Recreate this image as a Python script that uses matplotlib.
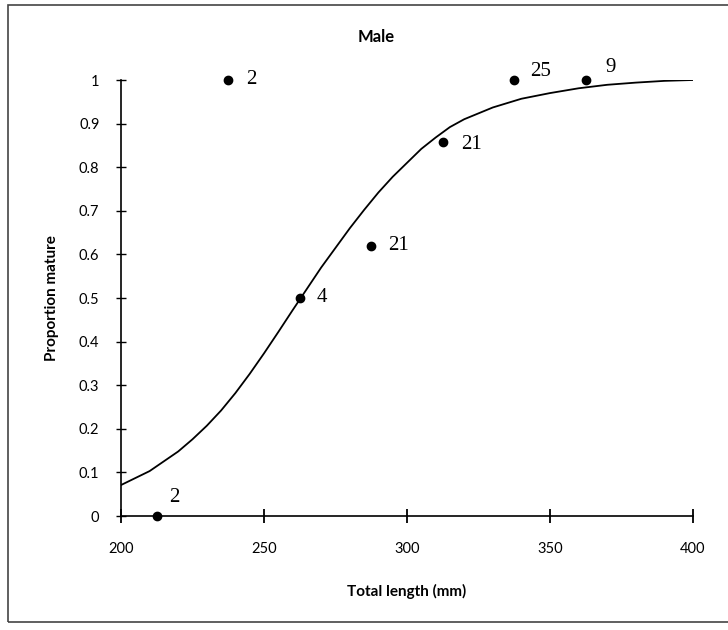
import matplotlib.pyplot as plt
from matplotlib.patches import Rectangle

plt.rcParams['font.family'] = ['Lato', 'DejaVu Sans']

# data
length_mm = [212.5, 237.5, 262.5, 287.5, 312.5, 337.5, 362.5]
prop_mature = [0.0, 1.0, 0.5, 0.62, 0.857, 1.0, 1.0]
n_labels = ["2", "2", "4", "21", "21", "25", "9"]

# fitted curve
curve_x = [200, 210, 220, 225, 230, 235, 240, 245, 250, 255, 260, 265, 270, 275, 280,
           285, 290, 295, 300, 305, 310, 315, 320, 330, 340, 350, 360, 370, 380, 390, 400]
curve_y = [0.071, 0.103, 0.148, 0.176, 0.207, 0.242, 0.282, 0.326, 0.373, 0.422, 0.472,
           0.521, 0.570, 0.615, 0.660, 0.702, 0.742, 0.778, 0.810, 0.842, 0.868,
           0.892, 0.910, 0.937, 0.957, 0.970, 0.981, 0.989, 0.994, 0.998, 1.0]

x_ticks = [200, 250, 300, 350, 400]
y_ticks = [0, 0.1, 0.2, 0.3, 0.4, 0.5, 0.6, 0.7, 0.8, 0.9, 1]
y_ticklabels = ["0", "0.1", "0.2", "0.3", "0.4", "0.5", "0.6", "0.7", "0.8", "0.9", "1"]

# label offsets in pixels (dx, dy up)
lab_off = [(12, 19), (18, 0), (17, 0), (17, 0), (18, -2), (16, 9), (20, 12)]

W, H = 728, 630
fig = plt.figure(figsize=(W / 100, H / 100), dpi=100)
ax = fig.add_axes([121 / W, 1 - 516 / H, (693 - 121) / W, (516 - 80) / H])

ax.plot(curve_x, curve_y, color="black", lw=1.3, zorder=2)
ax.scatter(length_mm, prop_mature, s=36, color="black", zorder=3, clip_on=False)

for x, y, t, (dx, dy) in zip(length_mm, prop_mature, n_labels, lab_off):
    ax.annotate(t, (x, y), xytext=(dx * 0.72, dy * 0.72), textcoords="offset points",
                ha="left", va="center", fontsize=15, family="Liberation Serif")

ax.set_xlim(200, 400)
ax.set_ylim(0, 1)
ax.set_xticks(x_ticks)
ax.set_yticks(y_ticks)
ax.set_yticklabels(y_ticklabels)

for s in ["top", "right"]:
    ax.spines[s].set_visible(False)
for s in ["left", "bottom"]:
    ax.spines[s].set_linewidth(1.2)

ax.tick_params(axis="x", direction="inout", length=10, width=1.3, pad=14, labelsize=10.5)
ax.tick_params(axis="y", direction="inout", length=7, width=1.0, pad=12, labelsize=10.5)

ax.set_xlabel("Total length (mm)", fontsize=11, fontweight="bold", labelpad=20)
ax.set_ylabel("Proportion mature", fontsize=11, fontweight="bold", labelpad=14)
fig.text(376 / W, 1 - 37 / H, "Male", fontsize=12, fontweight="bold", ha="center", va="center")

# chart area border
fig.patches.append(Rectangle((8 / W, 8 / H), 1.2, 1 - 13 / H, transform=fig.transFigure,
                             fill=False, edgecolor="#444444", lw=1.2))

fig.savefig("out.png", dpi=100)
